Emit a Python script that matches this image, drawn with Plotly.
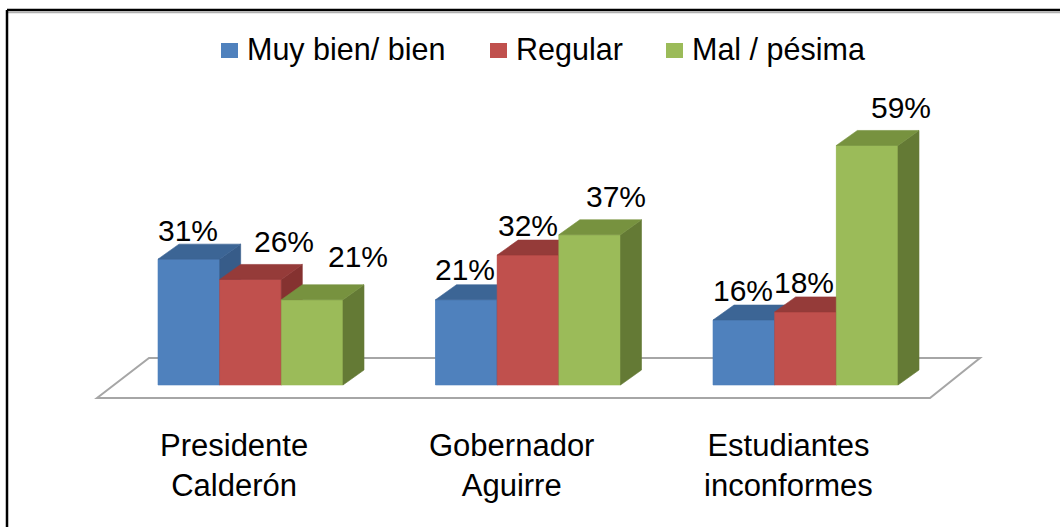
import plotly.graph_objects as go

# ---------------- data ----------------
categories = ["Presidente<br>Calderón", "Gobernador<br>Aguirre", "Estudiantes<br>inconformes"]
series_names = ["Muy bien/ bien", "Regular", "Mal / pésima"]
muy_bien = [31, 21, 16]
regular = [26, 32, 18]
mal = [21, 37, 59]
series_values = [muy_bien, regular, mal]

# ---------------- style ----------------
front_colors = ["#4F81BD", "#C0504D", "#9BBB59"]
top_colors = ["#3C6595", "#953B39", "#77923F"]
side_colors = ["#375C89", "#853230", "#647A35"]
FONT = "Liberation Sans, Arial, sans-serif"

W, H = 1060, 527
X0PX, UNIT = 250.5, 277.5      # px of group 0 centre, px per category
Y0PX, PXPCT = 385.0, 4.06      # px of baseline, px per percent
BARGAP = 1.0 / 3.0
nser = len(series_values)
BW = (1 - BARGAP) / nser
DX = 21 / UNIT
DY = 15 / PXPCT


def px2x(px):
    return (px - X0PX) / UNIT


def px2y(py):
    return (Y0PX - py) / PXPCT


def paper(px, py):
    return px / W, 1 - py / H


fig = go.Figure()
xs = list(range(len(categories)))

# front faces as real bars
for i, (name, vals) in enumerate(zip(series_names, series_values)):
    fig.add_trace(go.Bar(x=xs, y=vals, name=name, marker=dict(color=front_colors[i], line=dict(width=0)),
                         showlegend=False, hoverinfo="skip"))

# 3-D faces, drawn bar by bar so later bars overlap earlier ones
for g in xs:
    for i in range(nser):
        v = series_values[i][g]
        x0 = g - (1 - BARGAP) / 2 + i * BW
        x1 = x0 + BW
        faces = [
            ([x0, x1, x1, x0, x0], [0, 0, v, v, 0], front_colors[i]),
            ([x1, x1 + DX, x1 + DX, x1, x1], [0, DY, v + DY, v, 0], side_colors[i]),
            ([x0, x0 + DX, x1 + DX, x1, x0], [v, v + DY, v + DY, v, v], top_colors[i]),
        ]
        for fx, fy, col in faces:
            fig.add_trace(go.Scatter(x=fx, y=fy, fill="toself", fillcolor=col, mode="lines",
                                     line=dict(color=col, width=0.6), showlegend=False,
                                     hoverinfo="skip"))

# data labels
label_dx = [[-1, -1, -1], [33, 0, -2], [46, 26, 34]]
label_dy = [[29, 30, 30], [38, 30, 29], [43, 38, 38]]
for i in range(nser):
    for g in xs:
        v = series_values[i][g]
        xc = g - (1 - BARGAP) / 2 + (i + 0.5) * BW
        fig.add_annotation(x=xc, y=v, text=f"{v}%", showarrow=False, xshift=label_dx[i][g],
                           yshift=label_dy[i][g], font=dict(family=FONT, size=30, color="black"))

# category labels
for g, cat in zip(xs, categories):
    fig.add_annotation(x=g, y=px2y(465), text=cat, showarrow=False, xshift=-17,
                       font=dict(family=FONT, size=31, color="black"))

# floor
fl = [(97, 398), (149, 358), (980, 358), (930, 398)]
path = "M " + " L ".join(f"{px2x(a)},{px2y(b)}" for a, b in fl) + " Z"
shapes = [dict(type="path", path=path, xref="x", yref="y", layer="below",
               line=dict(color="#A6A6A6", width=2), fillcolor="white")]

# manual legend
leg_sq_x = [221, 490, 666]
leg_txt_x = [245, 514, 690]
for i, name in enumerate(series_names):
    a, b = paper(leg_sq_x[i], 43)
    c, d = paper(leg_sq_x[i] + 17, 58)
    shapes.append(dict(type="rect", xref="paper", yref="paper", x0=a, y0=b, x1=c, y1=d,
                       fillcolor=front_colors[i], line=dict(width=0)))
    tx, ty = paper(leg_txt_x[i], 50)
    fig.add_annotation(xref="paper", yref="paper", x=tx, y=ty, xanchor="left", yanchor="middle",
                       text=name, showarrow=False, font=dict(family=FONT, size=30.5, color="black"))

# frame border (top and left visible)
a, b = paper(7, 10)
c, d = paper(W + 5, 10)
shapes.append(dict(type="line", xref="paper", yref="paper", x0=a, y0=b, x1=c, y1=d,
                   line=dict(color="black", width=2.5)))
a2, b2 = paper(7, 12.5)
c2, d2 = paper(W + 5, 12.5)
shapes.append(dict(type="line", xref="paper", yref="paper", x0=a2, y0=b2, x1=c2, y1=d2,
                   line=dict(color="#B0B0B0", width=1.5)))
a, b = paper(7, 10)
c, d = paper(7, H + 5)
shapes.append(dict(type="line", xref="paper", yref="paper", x0=a, y0=b, x1=c, y1=d,
                   line=dict(color="black", width=2.5)))

fig.update_layout(
    width=W, height=H, margin=dict(l=0, r=0, t=0, b=0),
    paper_bgcolor="white", plot_bgcolor="white",
    barmode="group", bargap=BARGAP, bargroupgap=0,
    showlegend=False, shapes=shapes,
    xaxis=dict(range=[px2x(0), px2x(W)], visible=False, fixedrange=True),
    yaxis=dict(range=[px2y(H), px2y(0)], visible=False, fixedrange=True),
)

fig.write_html("out.html", config={"displayModeBar": False},
               post_script="document.body.style.margin='0';")
